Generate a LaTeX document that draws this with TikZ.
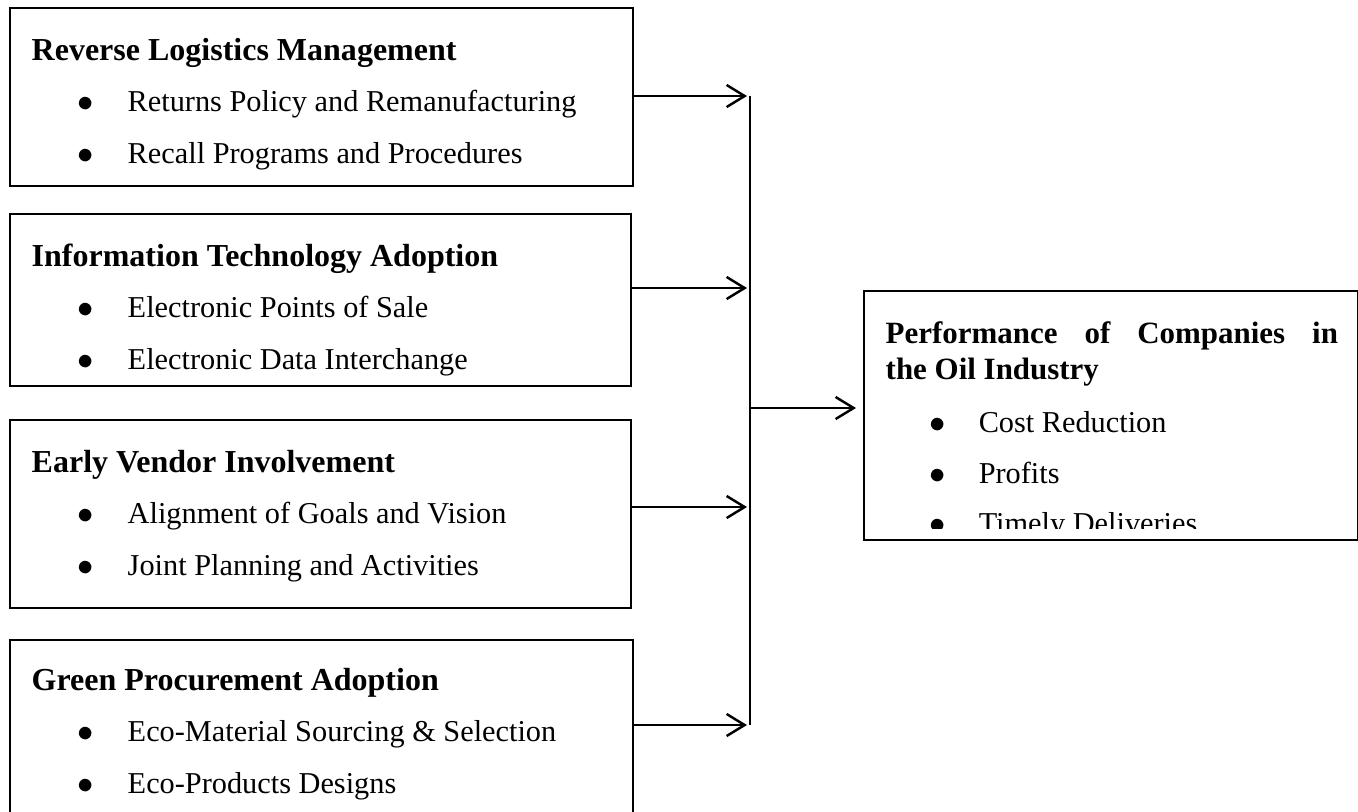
\documentclass[tikz,border=0pt]{standalone}
\usepackage{fontspec}
\setmainfont{Liberation Serif}
\usetikzlibrary{positioning, arrows.meta}

\begin{document}
\begin{tikzpicture}[x=0.01cm, y=-0.01cm, font=\fontsize{8.62}{10}\selectfont,
        box/.style={draw, line width=0.55pt, inner sep=0pt, anchor=north west},
        head/.style={anchor=base west, inner sep=0pt, font=\fontsize{9.1}{10}\selectfont\bfseries, align=left},
        item/.style={anchor=base west, inner sep=0pt},
        link/.style={line width=0.7pt, -{Straight Barb[length=0.18cm, width=0.22cm]}}]
      \clip (0,0) rectangle (1358,811);

      % the four driver boxes and the outcome box
      \node[box, minimum width=6.23cm, minimum height=1.78cm] (rlm) at (9,7) {};
      \node[box, minimum width=6.21cm, minimum height=1.72cm] (ita) at (9,213) {};
      \node[box, minimum width=6.21cm, minimum height=1.88cm] (evi) at (9,419) {};
      \node[box, minimum width=6.23cm, minimum height=1.80cm] (gpa) at (9,639) {};
      \node[box, minimum width=4.94cm, minimum height=2.49cm] (perf) at (863,290) {};

      \node[head] (rlm-h) at ([shift={(22,53)}]rlm.north west) {Reverse Logistics Management};
      \node[item] (rlm-1) at ([shift={(68,104)}]rlm.north west) {\makebox[0.50cm][l]{$\bullet$}Returns Policy and Remanufacturing};
      \node[item] (rlm-2) at ([shift={(68,156)}]rlm.north west) {\makebox[0.50cm][l]{$\bullet$}Recall Programs and Procedures};

      \node[head] (ita-h) at ([shift={(22,53)}]ita.north west) {Information Technology Adoption};
      \node[item] (ita-1) at ([shift={(68,104)}]ita.north west) {\makebox[0.50cm][l]{$\bullet$}Electronic Points of Sale};
      \node[item] (ita-2) at ([shift={(68,156)}]ita.north west) {\makebox[0.50cm][l]{$\bullet$}Electronic Data Interchange};

      \node[head] (evi-h) at ([shift={(22,53)}]evi.north west) {Early Vendor Involvement};
      \node[item] (evi-1) at ([shift={(68,104)}]evi.north west) {\makebox[0.50cm][l]{$\bullet$}Alignment of Goals and Vision};
      \node[item] (evi-2) at ([shift={(68,156)}]evi.north west) {\makebox[0.50cm][l]{$\bullet$}Joint Planning and Activities};

      \node[head] (gpa-h) at ([shift={(22,51)}]gpa.north west) {Green Procurement Adoption};
      \node[item] (gpa-1) at ([shift={(68,102)}]gpa.north west) {\makebox[0.50cm][l]{$\bullet$}Eco-Material Sourcing \& Selection};
      \node[item] (gpa-2) at ([shift={(68,154)}]gpa.north west) {\makebox[0.50cm][l]{$\bullet$}Eco-Products Designs};

      % last line runs past the box margin and gets cut
      \begin{scope}
        \clip (perf.north west) rectangle ([yshift=0.13cm]perf.south east);
        \node[head, font=\fontsize{8.8}{10}\selectfont\bfseries] (perf-h) at ([shift={(22,89)}]perf.north west)
          {\makebox[4.52cm][s]{Performance of Companies in}\\the Oil Industry};
        \node[item] (perf-1) at ([shift={(66,142)}]perf.north west) {\makebox[0.49cm][l]{$\bullet$}Cost Reduction};
        \node[item] (perf-2) at ([shift={(66,193)}]perf.north west) {\makebox[0.49cm][l]{$\bullet$}Profits};
        \node[item] (perf-3) at ([shift={(66,243)}]perf.north west) {\makebox[0.49cm][l]{$\bullet$}Timely Deliveries};
      \end{scope}

      % collecting bar
      \coordinate (j1) at (750,96);
      \coordinate (j2) at (750,288);
      \coordinate (j3) at (750,507);
      \coordinate (j4) at (750,725);
      \coordinate (jm) at (750,408);
      \draw[line width=0.7pt] (j1) -- (j4);
      \foreach \b/\j in {rlm/j1, ita/j2, evi/j3, gpa/j4}
        \draw[link] (\b.east |- \j) -- ([xshift=-0.03cm]\j);
      \draw[link] (jm) -- ([xshift=-0.07cm]perf.west |- jm);
    \end{tikzpicture}
\end{document}
